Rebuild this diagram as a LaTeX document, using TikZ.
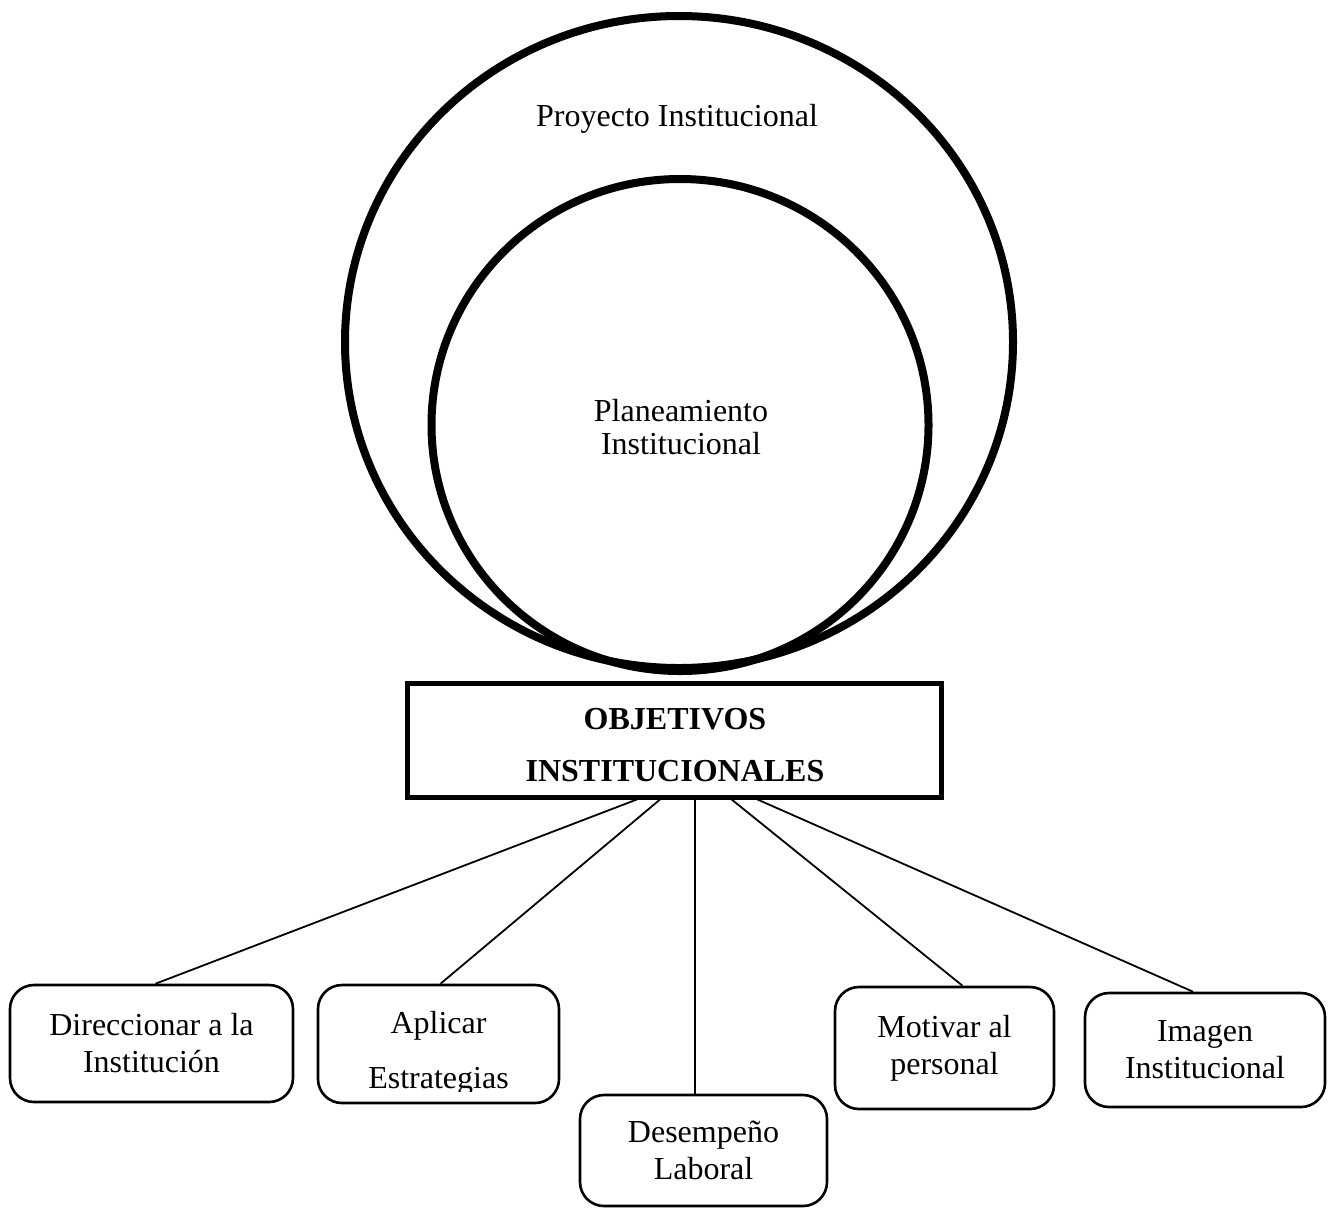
\documentclass[tikz,border=0pt]{standalone}
\usepackage{fontspec}
\setmainfont{Liberation Serif}
\usetikzlibrary{shapes.geometric,calc}
\begin{document}
\begin{tikzpicture}[x=1pt,y=-1pt,
  ring/.style={draw,ellipse,line width=8pt,inner sep=0pt},
  goalbox/.style={draw,rectangle,line width=5pt,inner sep=0pt},
  leaf/.style={draw,rectangle,rounded corners=24pt,line width=2.6pt,inner sep=0pt,
    align=center,font=\fontsize{32}{37}\selectfont},
  link/.style={line width=1.8pt},
  lbl/.style={font=\fontsize{32}{33}\selectfont,align=center,inner sep=0pt}]
\useasboundingbox (0,0) rectangle (1337,1208);

% nested circles
\node[ring,minimum width=668pt,minimum height=652pt] (proy) at (679,342) {};
\node[ring,minimum width=497pt,minimum height=492pt] (plan) at (680,425) {};
\node[lbl] (proyt) at (677,119) {Proyecto Institucional};
\node[lbl] (plant) at (681,427) {Planeamiento\\Institucional};

% central box
\node[goalbox,minimum width=534pt,minimum height=114pt] (obj) at (674,740) {};
\node[font=\bfseries\fontsize{32}{52}\selectfont,align=center,inner sep=0pt] (objt) at (675,745)
  {OBJETIVOS\\INSTITUCIONALES};

% leaf boxes
\node[leaf,minimum width=283pt,minimum height=117pt] (dir) at (151.5,1043.5) {Direccionar a la\\Institución};
\node[leaf,minimum width=241pt,minimum height=118pt] (apl) at (438.5,1044) {};
\node[leaf,minimum width=247pt,minimum height=111pt] (des) at (703.5,1150.5) {Desempeño\\Laboral};
\node[leaf,minimum width=219pt,minimum height=122pt] (mot) at (944.5,1048) {Motivar al\\personal};
\node[leaf,minimum width=240pt,minimum height=114pt] (img) at (1205,1050) {Imagen\\Institucional};

% text of the second box, cut off just below its last baseline
\begin{scope}
  \clip ($(apl.north west)+(4,4)$) rectangle ($(apl.south east)+(-4,-13)$);
  \node[font=\fontsize{32}{55}\selectfont,align=center,inner sep=0pt] (aplt) at (438.5,1053)
    {Aplicar\\Estrategias};
\end{scope}

% connectors
\draw[link] ($(obj.south west)!0.431!(obj.south east)$) -- ($(dir.north)+(4,0)$);
\draw[link] ($(obj.south west)!0.474!(obj.south east)$) -- ($(apl.north)+(2,0)$);
\draw[link] ($(obj.south west)!0.539!(obj.south east)$) -- (des.north -| {$(obj.south west)!0.539!(obj.south east)$});
\draw[link] ($(obj.south west)!0.607!(obj.south east)$) -- ($(mot.north)+(18,0)$);
\draw[link] ($(obj.south west)!0.655!(obj.south east)$) -- ($(img.north)+(-12,0)$);
\end{tikzpicture}
\end{document}
